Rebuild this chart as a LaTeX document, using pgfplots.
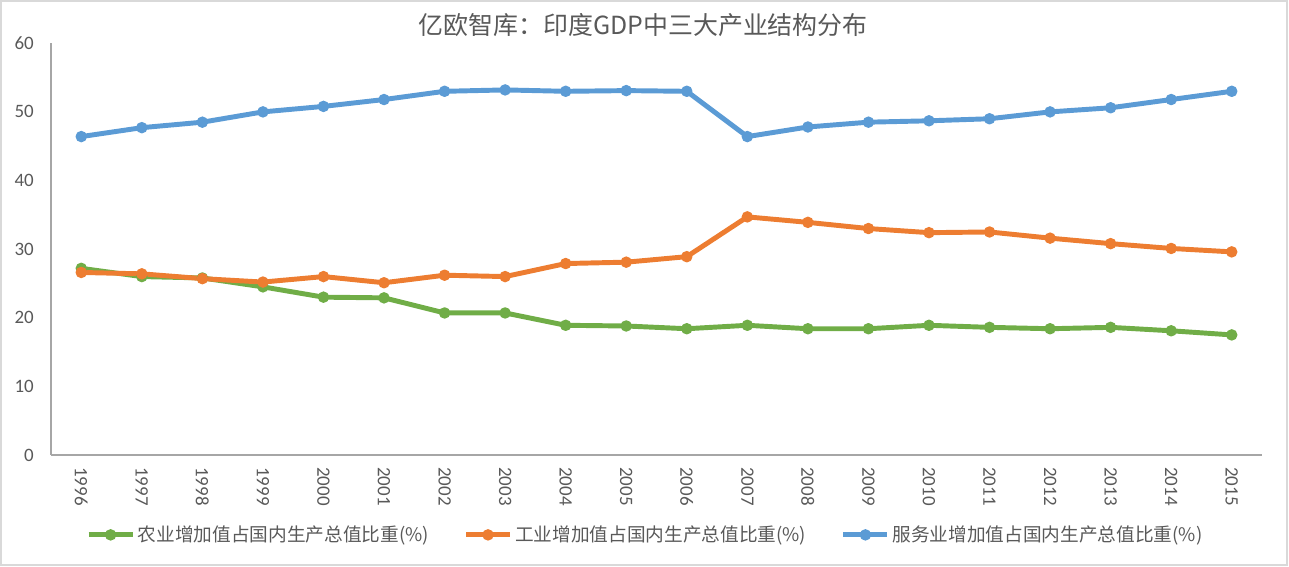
\documentclass[border=0pt]{standalone}
\usepackage{pgfplots}
\pgfplotsset{compat=1.18}
\usepackage{fontspec}
\setmainfont{Carlito}
\newfontfamily\cjk{Noto Sans CJK SC}
\definecolor{cgreen}{HTML}{70AD47}
\definecolor{corange}{HTML}{ED7D31}
\definecolor{cblue}{HTML}{5B9BD5}
\definecolor{ctext}{HTML}{595959}
\definecolor{caxis}{HTML}{A6A6A6}
\definecolor{cborder}{HTML}{D9D9D9}
\begin{document}
\begin{tikzpicture}
\useasboundingbox (0,0) rectangle (966.75pt,425.25pt);
\draw[cborder, line width=1.2pt] (0.75pt,1.5pt) rectangle (965.25pt,424.5pt);
\begin{axis}[
  at={(38.25pt,84pt)}, anchor=south west,
  scale only axis, width=908.25pt, height=308.8pt,
  xmin=-0.5, xmax=19.5, ymin=0, ymax=60,
  xtick={0,1,...,19},
  xticklabels={1996,1997,1998,1999,2000,2001,2002,2003,2004,2005,2006,2007,2008,2009,2010,2011,2012,2013,2014,2015},
  ytick={0,10,...,60},
  axis lines*=left,
  axis line style={caxis, line width=1pt},
  major tick length=0pt,
  /pgf/number format/assume math mode=true,
  tick label style={font=\fontsize{14.2}{16}\selectfont, text=ctext},
  xticklabel style={rotate=-90, anchor=west, inner xsep=9pt, inner ysep=0pt},
  yticklabel style={anchor=east, inner xsep=12.75pt, inner ysep=0pt},
  title={亿欧智库：印度GDP中三大产业结构分布},
  title style={at={(0.489,1.025)}, anchor=center, font=\cjk\fontsize{18.7}{20}\selectfont, text=ctext},
  legend columns=3,
  legend cell align=left,
  legend style={at={(0.491,-0.194)}, anchor=center, draw=none, fill=none,
    font=\cjk\fontsize{14}{16}\selectfont, text=ctext,
    nodes={inner xsep=2pt},
    /tikz/every even column/.append style={column sep=24pt}},
  legend image code/.code={\draw[#1, mark repeat=2, mark phase=2] plot coordinates {(0pt,0pt)(16.5pt,0pt)(33pt,0pt)};},
  every axis plot/.append style={line width=3.7pt, line join=round, mark=*, mark size=3.8pt, mark options={line width=1pt}},
  clip=false,
]
\addplot[cgreen] coordinates {(0,27.2)(1,26.0)(2,25.8)(3,24.5)(4,23.0)(5,22.9)(6,20.7)(7,20.7)(8,18.9)(9,18.8)(10,18.4)(11,18.9)(12,18.4)(13,18.4)(14,18.9)(15,18.6)(16,18.4)(17,18.6)(18,18.1)(19,17.5)};
\addlegendentry{农业增加值占国内生产总值比重(\%)}
\addplot[corange] coordinates {(0,26.6)(1,26.4)(2,25.7)(3,25.2)(4,26.0)(5,25.1)(6,26.2)(7,26.0)(8,27.9)(9,28.1)(10,28.9)(11,34.7)(12,33.9)(13,33.0)(14,32.4)(15,32.5)(16,31.6)(17,30.8)(18,30.1)(19,29.6)};
\addlegendentry{工业增加值占国内生产总值比重(\%)}
\addplot[cblue] coordinates {(0,46.4)(1,47.7)(2,48.5)(3,50.0)(4,50.8)(5,51.8)(6,53.0)(7,53.2)(8,53.0)(9,53.1)(10,53.0)(11,46.4)(12,47.8)(13,48.5)(14,48.7)(15,49.0)(16,50.0)(17,50.6)(18,51.8)(19,53.0)};
\addlegendentry{服务业增加值占国内生产总值比重(\%)}
\end{axis}
\end{tikzpicture}
\end{document}
